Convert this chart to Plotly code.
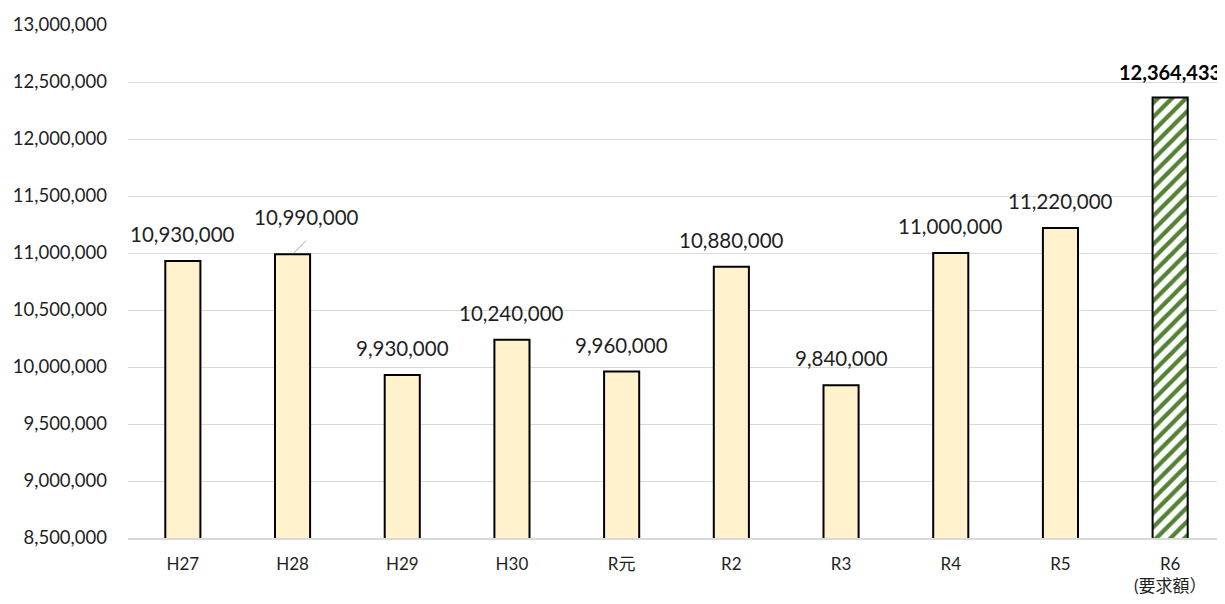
import plotly.graph_objects as go

categories = ["H27", "H28", "H29", "H30", "R元", "R2", "R3", "R4", "R5", "R6"]
tick_labels = ["H27", "H28", "H29", "H30", "R元", "R2", "R3", "R4", "R5", "R6<br>(要求額）"]
values = [10930000, 10990000, 9930000, 10240000, 9960000, 10880000, 9840000, 11000000, 11220000, 12364433]
y_ticks = [8500000, 9000000, 9500000, 10000000, 10500000, 11000000, 11500000, 12000000, 12500000, 13000000]

FONT = "Lato, 'Noto Sans CJK JP', sans-serif"
TXT = "#1F1F1F"

n = len(categories)

fig = go.Figure()
fig.add_trace(go.Bar(
    x=categories[:-1],
    y=values[:-1],
    width=0.32,
    marker=dict(color="#FFF2CC", line=dict(color="#000000", width=2)),
    hoverinfo="skip",
))
fig.add_trace(go.Bar(
    x=categories[-1:],
    y=values[-1:],
    width=0.32,
    marker=dict(
        color="#548235",
        line=dict(color="#000000", width=2),
        pattern=dict(shape="/", fgcolor="#548235", bgcolor="#FFFFFF", fgopacity=1,
                     size=10, solidity=0.42, fillmode="replace"),
    ),
    hoverinfo="skip",
))

annotations = []
for i, (c, v) in enumerate(zip(categories, values)):
    label = f"{v:,}"
    if i == n - 1:
        annotations.append(dict(x=c, y=v, text=f"<b>{label}</b>", showarrow=False, yshift=25,
                                font=dict(family=FONT, size=20, color="#000000")))
    elif c == "H28":
        annotations.append(dict(x=c, y=v, text=label, showarrow=False, xshift=14, yshift=37,
                                font=dict(family=FONT, size=20.5, color=TXT)))
        annotations.append(dict(x=c, y=v, text="", showarrow=True, arrowhead=0, arrowwidth=1,
                                arrowcolor="#A6A6A6", ax=15, ay=-15, standoff=1))
    else:
        annotations.append(dict(x=c, y=v, text=label, showarrow=False, yshift=27,
                                font=dict(family=FONT, size=20.5, color=TXT)))

fig.update_layout(
    width=1217, height=596,
    margin=dict(l=120, r=0, t=17, b=66, autoexpand=False),
    paper_bgcolor="#FFFFFF", plot_bgcolor="#FFFFFF",
    showlegend=False,
    barmode="overlay",
    annotations=annotations,
    font=dict(family=FONT, color=TXT),
)
fig.update_xaxes(
    type="category", automargin=False,
    categoryorder="array", categoryarray=categories,
    tickmode="array", tickvals=categories, ticktext=tick_labels,
    tickfont=dict(family=FONT, size=17, color=TXT),
    showline=True, linecolor="#D9D9D9", linewidth=1.5,
    showgrid=False, ticks="", ticklabelstandoff=10,
)
fig.update_yaxes(
    range=[8500000, 13000000], automargin=False,
    tickmode="array", tickvals=y_ticks, ticktext=[f"{t:,}" for t in y_ticks],
    tickfont=dict(family=FONT, size=18.5, color=TXT),
    showgrid=True, gridcolor="#D9D9D9", gridwidth=1,
    zeroline=False, showline=False, ticks="", ticklabelstandoff=20,
)

fig.write_html("out.html")
